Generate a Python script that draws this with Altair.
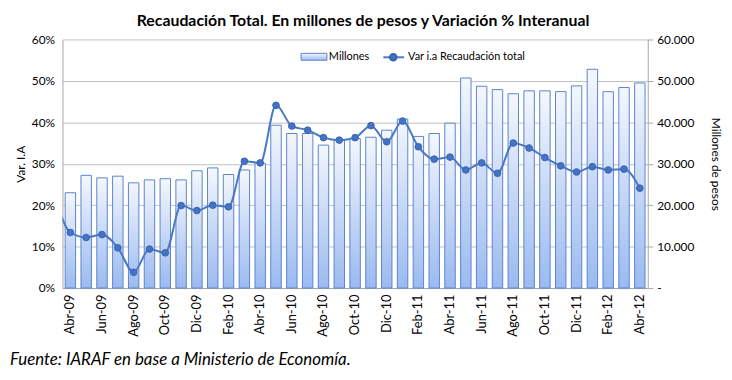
import altair as alt
import pandas as pd

meses = ["Abr-09","May-09","Jun-09","Jul-09","Ago-09","Sep-09","Oct-09","Nov-09","Dic-09",
         "Ene-10","Feb-10","Mar-10","Abr-10","May-10","Jun-10","Jul-10","Ago-10","Sep-10",
         "Oct-10","Nov-10","Dic-10","Ene-11","Feb-11","Mar-11","Abr-11","May-11","Jun-11",
         "Jul-11","Ago-11","Sep-11","Oct-11","Nov-11","Dic-11","Ene-12","Feb-12","Mar-12","Abr-12"]

millones = [23000, 27200, 26600, 27000, 25400, 26100, 26400, 26100, 28300,
            29000, 27400, 28500, 30100, 39300, 37300, 37300, 34500, 35700,
            36100, 36400, 38100, 40800, 36600, 37300, 39800, 50700, 48700,
            47900, 46900, 47600, 47600, 47400, 48800, 52800, 47400, 48400, 49500]

# variación interanual (%), first value is Mar-09 (the line enters from the left edge)
var_ia = [0.225, 0.134, 0.122, 0.129, 0.097, 0.038, 0.094, 0.085, 0.199, 0.187,
          0.200, 0.196, 0.306, 0.302, 0.441, 0.391, 0.381, 0.363, 0.357,
          0.363, 0.392, 0.353, 0.403, 0.341, 0.311, 0.316, 0.285, 0.302,
          0.277, 0.350, 0.338, 0.315, 0.295, 0.280, 0.293, 0.285, 0.287, 0.241]

bars_df = pd.DataFrame({"mes": meses, "millones": millones})
line_df = pd.DataFrame({"idx": list(range(-1, len(meses))), "var": var_ia})

FONT = "Lato"
N = len(meses)

grad = alt.Gradient(gradient="linear", x1=0, y1=0, x2=0, y2=1,
                    stops=[alt.GradientStop(color="#F4F7FD", offset=0),
                           alt.GradientStop(color="#9BBAF0", offset=1)])

bars = alt.Chart(bars_df).mark_bar(color=grad, stroke="#5A85CE", strokeWidth=1).encode(
    x=alt.X("mes:N", sort=meses, scale=alt.Scale(paddingInner=0.34, paddingOuter=0.17),
            axis=alt.Axis(values=meses[::2], labelAngle=-90, labelAlign="right", labelBaseline="middle",
                          labelFontSize=13, labelFont=FONT, labelColor="#000", labelPadding=6,
                          ticks=False, grid=False, domainColor="#A6A6A6", title=None)),
    y=alt.Y("millones:Q", scale=alt.Scale(domain=[0, 60000], nice=False),
            axis=alt.Axis(orient="right", values=[0, 10000, 20000, 30000, 40000, 50000, 60000],
                          labelExpr="datum.value == 0 ? '-' : replace(format(datum.value, ','), ',', '.')",
                          grid=False, labelFontSize=12, labelFont=FONT, labelColor="#000",
                          tickColor="#A6A6A6", tickSize=5, labelPadding=4, domainColor="#A6A6A6",
                          title="Millones de pesos", titleFontSize=12, titleFont=FONT,
                          titleFontWeight="normal", titleColor="#000", titlePadding=15)),
)

xq = alt.Scale(domain=[-0.5, N - 0.5], nice=False, zero=False)
yq = alt.Scale(domain=[0, 0.6], nice=False)

line = alt.Chart(line_df).mark_line(color="#4A78C6", strokeWidth=2, interpolate="monotone", clip=True).encode(
    x=alt.X("idx:Q", scale=xq, axis=None),
    y=alt.Y("var:Q", scale=yq,
            axis=alt.Axis(orient="left", format=".0%", values=[0, 0.1, 0.2, 0.3, 0.4, 0.5, 0.6],
                          grid=True, gridColor="#BFBFBF", ticks=False, labelFontSize=12, labelFont=FONT,
                          labelColor="#000", labelPadding=8, domainColor="#A6A6A6",
                          title="Var. I.A", titleFontSize=12, titleFont=FONT,
                          titleFontWeight="normal", titleColor="#000", titlePadding=4)),
)

points = alt.Chart(line_df[line_df.idx >= 0]).mark_point(
    filled=True, size=45, color="#4472C4", stroke="#3A63AD", strokeWidth=1, opacity=1).encode(
    x=alt.X("idx:Q", scale=xq, axis=None),
    y=alt.Y("var:Q", scale=yq, axis=None),
)

one = alt.Data(values=[{"a": 1}])
leg_rect = alt.Chart(one).mark_rect(color=grad, stroke="#5A85CE", strokeWidth=1).encode(
    x=alt.value(241), x2=alt.value(267), y=alt.value(14), y2=alt.value(21))
leg_t1 = alt.Chart(one).mark_text(align="left", baseline="middle", font=FONT, fontSize=11, color="#000").encode(
    x=alt.value(269), y=alt.value(18), text=alt.value("Millones"))
leg_rule = alt.Chart(one).mark_rule(color="#4A78C6", strokeWidth=2).encode(
    x=alt.value(324), x2=alt.value(345), y=alt.value(18))
leg_pt = alt.Chart(one).mark_point(filled=True, size=45, color="#4472C4", stroke="#3A63AD", opacity=1).encode(
    x=alt.value(334), y=alt.value(18))
leg_t2 = alt.Chart(one).mark_text(align="left", baseline="middle", font=FONT, fontSize=11, color="#000").encode(
    x=alt.value(349), y=alt.value(18), text=alt.value("Var i.a Recaudación total"))

footer = alt.Chart(one).mark_text(align="left", baseline="middle", font=FONT, fontSize=17,
                                  fontStyle="italic", color="#000").encode(
    x=alt.value(-53), y=alt.value(324), text=alt.value("Fuente: IARAF en base a Ministerio de Economía."))

chart = alt.layer(bars, line, points, leg_rect, leg_t1, leg_rule, leg_pt, leg_t2, footer).resolve_scale(
    x="independent", y="independent"
).properties(
    width=591, height=251,
    title=alt.Title("Recaudación Total. En millones de pesos y Variación % Interanual",
                    font=FONT, fontSize=16, fontWeight="bold", color="#000", anchor="middle",
                    dx=8, offset=5),
    autosize=alt.AutoSizeParams(type="none"),
    padding={"left": 55, "top": 30, "right": 77, "bottom": 82},
).configure_view(stroke=None)

chart.save("out.html", embed_options={"renderer": "svg", "actions": False})
